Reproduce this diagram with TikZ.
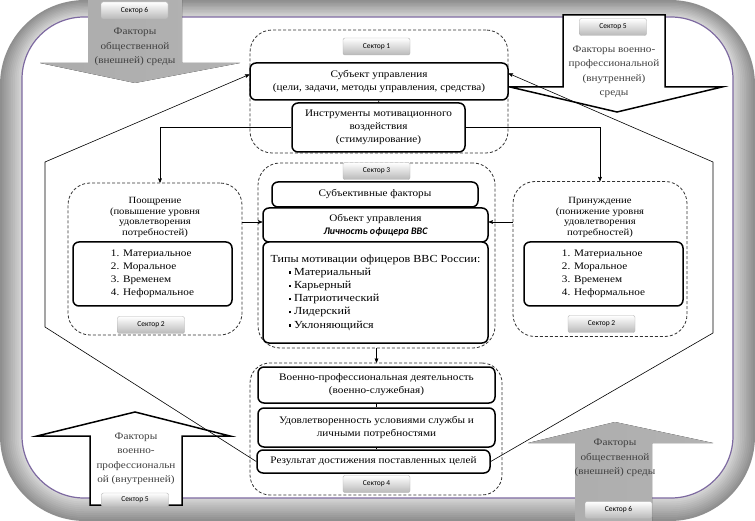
\documentclass[tikz,border=0pt]{standalone}
\usepackage{fontspec}
\setmainfont{Liberation Serif}[FakeStretch=1.12]
\setsansfont{Carlito}
\usetikzlibrary{arrows}
\definecolor{frameline}{RGB}{125,105,160}
\tikzstyle{box} = [draw,line width=1.5pt,rounded corners=6pt,fill=white,align=center,inner sep=1pt,font=\fontsize{10}{13}\selectfont]
\tikzstyle{zone} = [draw=black!80,dash pattern=on 3pt off 2pt,line width=0.8pt,rounded corners=22pt,fill=white]
\tikzstyle{sector} = [draw=gray!60,rounded corners=2pt,top color=white,bottom color=gray!55,minimum width=67pt,minimum height=17pt,inner sep=0pt,font=\sffamily\fontsize{7.5}{8}\selectfont]
\tikzstyle{wire} = [draw,line width=0.6pt]
\tikzstyle{bigarrow} = [draw,line width=1.5pt,fill=white]
\tikzstyle{greyarrow} = [left color=gray!65,middle color=gray!20,right color=gray!60]
\tikzstyle{caption} = [align=center,text=black!75,inner sep=0pt,font=\fontsize{10}{14.5}\selectfont]
\tikzstyle{head} = [align=center,inner sep=0pt,font=\fontsize{9.5}{10.5}\selectfont]

\begin{document}
\begin{tikzpicture}[x=1pt,y=-1pt,post/.style={->,>=stealth',wire}]
    \useasboundingbox (0,0) rectangle (755,521);

    % frame
    \foreach \i in {0,...,11}{
      \pgfmathtruncatemacro{\tone}{88-5*\i}
      \pgfmathsetmacro{\rad}{85-2*\i}
      \fill[gray!\tone,rounded corners=\rad pt] ({1.85*\i},{1.45*\i}) rectangle ({755-1.85*\i},{521-1.95*\i});
    }
    \fill[white,rounded corners=62pt] (22,17) rectangle (733,498);
    \draw[frameline,line width=1.2pt,rounded corners=62pt] (22,17) rectangle (733,498);

    % outer factors
    \fill[greyarrow] (88,0) -- (182,0) -- (182,63) -- (240,63) -- (135,83) -- (40,63) -- (88,63) -- cycle;
    \node[caption] (f6a) at (135,47) {Факторы\\общественной\\(внешней) среды};
    \node[sector] (s6a) at (134.5,10.5) {Сектор 6};

    \draw[bigarrow] (563,15) -- (665,15) -- (665,87) -- (722,87) -- (617,112) -- (510,87) -- (563,87) -- cycle;
    \node[caption] (f5a) at (614,72) {Факторы военно-\\профессиональной\\(внутренней)\\среды};
    \node[sector] (s5a) at (613,27) {Сектор 5};

    \draw[bigarrow] (90,505) -- (90,436) -- (37,436) -- (135,412) -- (230,436) -- (182,436) -- (182,505) -- cycle;
    \node[caption] (f5b) at (136,459) {Факторы\\военно-\\профессиональн\\ой (внутренней)};
    \node[sector,minimum height=14pt] (s5b) at (135,500) {Сектор 5};

    \fill[greyarrow] (575,521) -- (575,443) -- (528,443) -- (615,422) -- (713,443) -- (652,443) -- (652,521) -- cycle;
    \node[caption] (f6b) at (615,458) {Факторы\\общественной\\(внешней) среды};
    \node[sector] (s6b) at (618.5,510) {Сектор 6};

    % sectors
    \node[zone,minimum width=258,minimum height=123] (z1) at (379,91.5) {};
    \node[zone,minimum width=174,minimum height=152] (z2a) at (155,259) {};
    \node[zone,minimum width=174,minimum height=155] (z2b) at (600,259) {};
    \node[zone,minimum width=237,minimum height=185] (z3) at (376.5,255.5) {};
    \node[zone,minimum width=252,minimum height=132,rounded corners=20pt] (z4) at (376,429) {};

    % sector 1
    \node[sector] (s1) at (376.5,46.5) {Сектор 1};
    \node[box,minimum width=258,minimum height=37] (subj) at (379,81.5) {Субъект управления\\(цели, задачи, методы управления, средства)};
    \node[box,minimum width=173,minimum height=49] (instr) at (378.5,127.5) {Инструменты мотивационного\\воздействия\\(стимулирование)};

    % sector 2
    \node[head] (h2a) at (155,217.5) {Поощрение\\(повышение уровня\\удовлетворения\\потребностей)};
    \node[box,minimum width=159,minimum height=64,align=left] (l2a) at (152.5,274) {1. Материальное\\2. Моральное\\3. Временем\\4. Неформальное};
    \node[sector] (s2a) at (151,325) {Сектор 2};
    \node[head] (h2b) at (600,217.5) {Принуждение\\(понижение уровня\\удовлетворения\\потребностей)};
    \node[box,minimum width=159,minimum height=64,align=left] (l2b) at (603.5,274) {1. Материальное\\2. Моральное\\3. Временем\\4. Неформальное};
    \node[sector] (s2b) at (601.5,324) {Сектор 2};

    % sector 3
    \node[sector] (s3) at (376.5,171) {Сектор 3};
    \node[box,minimum width=206,minimum height=25] (subf) at (375,194.5) {Субъективные факторы};
    \node[box,minimum width=225,minimum height=34] (obj) at (375.5,225) {Объект управления\\{\sffamily\bfseries\itshape Личность офицера ВВС}};
    \node[box,minimum width=225,minimum height=101,align=left,font=\fontsize{10.8}{13.2}\selectfont] (types) at (375.5,292.5) {Типы мотивации офицеров ВВС России:\\
      \hspace*{18pt}\raisebox{1.5pt}{\rule{2.5pt}{2.5pt}}\ Материальный\\
      \hspace*{18pt}\raisebox{1.5pt}{\rule{2.5pt}{2.5pt}}\ Карьерный\\
      \hspace*{18pt}\raisebox{1.5pt}{\rule{2.5pt}{2.5pt}}\ Патриотический\\
      \hspace*{18pt}\raisebox{1.5pt}{\rule{2.5pt}{2.5pt}}\ Лидерский\\
      \hspace*{18pt}\raisebox{1.5pt}{\rule{2.5pt}{2.5pt}}\ Уклоняющийся};

    % sector 4
    \node[box,minimum width=237,minimum height=36] (vpd) at (376.5,385) {Военно-профессиональная деятельность\\(военно-служебная)};
    \node[box,minimum width=237,minimum height=39] (udov) at (376.5,427.5) {Удовлетворенность условиями службы и\\личными потребностями};
    \node[box,minimum width=233,minimum height=23] (rez) at (373.5,461.5) {Результат достижения поставленных целей};
    \node[sector] (s4) at (376.5,484) {Сектор 4};

    % links
    \coordinate (objl) at ([yshift=3pt]obj.west);
    \coordinate (objr) at ([yshift=3pt]obj.east);
    \draw[wire] (subj) -- (instr);
    \draw[post] (instr.west) -| ([xshift=5pt]z2a.north);
    \draw[post] (instr.east) -| (z2b.north);
    \draw[post] (z2a.east |- objl) -- (objl);
    \draw[post] (z2b.west |- objr) -- (objr);
    \draw[post] (z3.south) -- (z3.south |- z4.north);
    \draw[wire] (vpd.south) -- (vpd.south |- udov.north);
    \draw[wire] (udov.south) -- (udov.south |- rez.north);

    \coordinate (pl1) at (45,162);
    \coordinate (pl2) at (45,327);
    \coordinate (pr1) at (713,162);
    \coordinate (pr2) at (713,333);
    \draw[post] (rez.west) -- (pl2) -- (pl1) -- ([yshift=7pt]subj.west);
    \draw[post] (rez.east) -- (pr2) -- (pr1) -- ([yshift=8pt]subj.east);

\end{tikzpicture}
\end{document}
